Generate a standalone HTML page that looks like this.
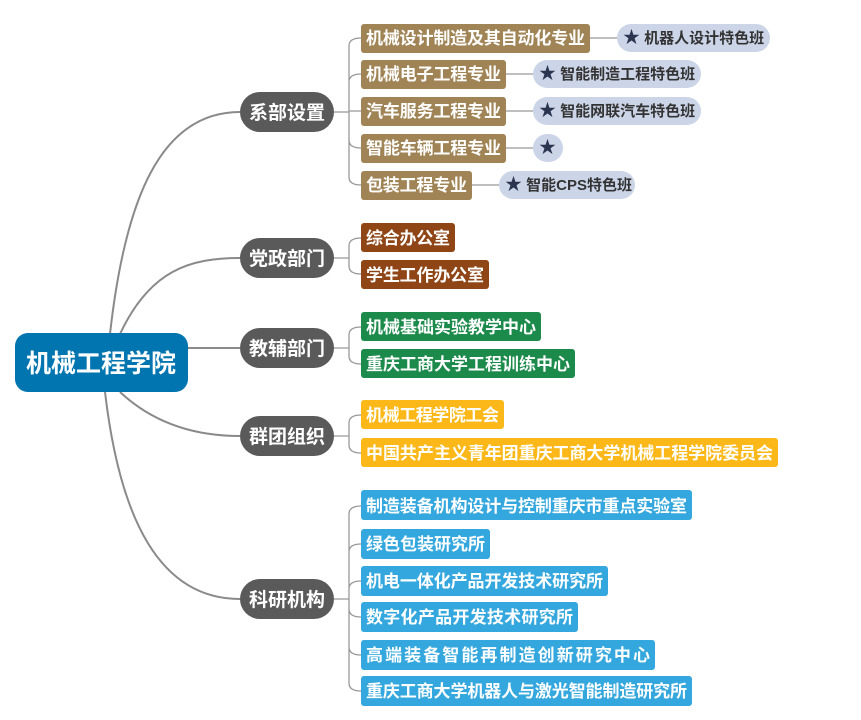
<!DOCTYPE html>
<html><head><meta charset="utf-8"><style>
html,body{margin:0;padding:0;background:#fff;}
svg{display:block;}
text{font-family:"Liberation Sans","Noto Sans CJK SC",sans-serif;font-weight:bold;}
.l{fill:#fff;font-size:17px;}
.p{fill:#333;font-size:15px;}
.m{fill:#fff;font-size:19px;}
</style></head><body>
<svg width="861" height="720" viewBox="0 0 861 720">
<g fill="none" stroke="#8a8a8a" stroke-width="2">
<path d="M110,334 C125,200 160,112 240,112"/>
<path d="M120,334 C150,270 190,258 240,258"/>
<path d="M188,348 L240,348"/>
<path d="M120,392 C150,420 190,436 240,436"/>
<path d="M105,392 C120,520 160,599 240,599"/>
</g>
<g fill="none" stroke="#999" stroke-width="1.3">
<path d="M334,112 H349"/>
<path d="M349,112 V46 Q349,38 361,38 M349,112 V82 Q349,74 361,74 M349,111 H361 M349,112 V140 Q349,148 361,148 M349,112 V177 Q349,185 361,185"/>
<path d="M334,258 H349 M349,258 V246 Q349,238 361,238 M349,258 V266 Q349,274 361,274"/>
<path d="M334,348 H349 M349,348 V335 Q349,327 361,327 M349,348 V356 Q349,364 361,364"/>
<path d="M334,436 H349 M349,436 V423 Q349,415 361,415 M349,436 V445 Q349,453 361,453"/>
<path d="M334,599 H349 M349,599 V514 Q349,506 361,506 M349,599 V552 Q349,544 361,544 M349,599 V589 Q349,581 361,581 M349,599 V609 Q349,617 361,617 M349,599 V647 Q349,655 361,655 M349,599 V683 Q349,691 361,691"/>
<path d="M590,38 H617 M506,74 H533 M506,111 H533 M506,148 H533 M472,185 H499"/>
</g>
<rect x="15" y="333" width="173" height="59" rx="13" fill="#0075b0"/>
<text x="101" y="372" text-anchor="middle" fill="#fff" font-size="25">机械工程学院</text>
<g fill="#5a5a5a">
<rect x="240" y="92" width="94" height="40" rx="20"/>
<rect x="240" y="238" width="94" height="40" rx="20"/>
<rect x="240" y="328" width="94" height="40" rx="20"/>
<rect x="240" y="416" width="94" height="40" rx="20"/>
<rect x="240" y="579" width="94" height="40" rx="20"/>
</g>
<text class="m" x="287" y="119" text-anchor="middle">系部设置</text>
<text class="m" x="287" y="265" text-anchor="middle">党政部门</text>
<text class="m" x="287" y="355" text-anchor="middle">教辅部门</text>
<text class="m" x="287" y="443" text-anchor="middle">群团组织</text>
<text class="m" x="287" y="606" text-anchor="middle">科研机构</text>
<g fill="#a08456">
<rect x="361" y="24" width="229" height="29" rx="3"/>
<rect x="361" y="60" width="145" height="29" rx="3"/>
<rect x="361" y="97" width="145" height="29" rx="3"/>
<rect x="361" y="134" width="145" height="29" rx="3"/>
<rect x="361" y="171" width="111" height="29" rx="3"/>
</g>
<text class="l" x="366" y="44" textLength="219">机械设计制造及其自动化专业</text>
<text class="l" x="366" y="80" textLength="135">机械电子工程专业</text>
<text class="l" x="366" y="117" textLength="135">汽车服务工程专业</text>
<text class="l" x="366" y="154" textLength="135">智能车辆工程专业</text>
<text class="l" x="366" y="191" textLength="101">包装工程专业</text>
<g fill="#ccd5e8">
<rect x="617" y="24" width="153" height="28" rx="14"/>
<rect x="533" y="60" width="168" height="28" rx="14"/>
<rect x="533" y="97" width="168" height="28" rx="14"/>
<rect x="533" y="134" width="30" height="28" rx="14"/>
<rect x="499" y="171" width="136" height="28" rx="14"/>
</g>
<text class="p" x="623" y="43"><tspan fill="#2b3550" font-size="17">★</tspan> 机器人设计特色班</text>
<text class="p" x="539" y="79"><tspan fill="#2b3550" font-size="17">★</tspan> 智能制造工程特色班</text>
<text class="p" x="539" y="116"><tspan fill="#2b3550" font-size="17">★</tspan> 智能网联汽车特色班</text>
<text class="p" x="539" y="153"><tspan fill="#2b3550" font-size="17">★</tspan></text>
<text class="p" x="505" y="190"><tspan fill="#2b3550" font-size="17">★</tspan> 智能CPS特色班</text>
<g fill="#8f4516">
<rect x="361" y="223" width="94" height="29" rx="3"/>
<rect x="361" y="260" width="128" height="29" rx="3"/>
</g>
<text class="l" x="366" y="244" textLength="84">综合办公室</text>
<text class="l" x="366" y="281" textLength="118">学生工作办公室</text>
<g fill="#1b8a4a">
<rect x="361" y="312" width="180" height="29" rx="3"/>
<rect x="361" y="349" width="214" height="29" rx="3"/>
</g>
<text class="l" x="366" y="333" textLength="170">机械基础实验教学中心</text>
<text class="l" x="366" y="370" textLength="204">重庆工商大学工程训练中心</text>
<g fill="#fbb818">
<rect x="361" y="400" width="143" height="29" rx="3"/>
<rect x="361" y="438" width="417" height="29" rx="3"/>
</g>
<text class="l" x="366" y="421" textLength="133">机械工程学院工会</text>
<text class="l" x="366" y="459" textLength="407">中国共产主义青年团重庆工商大学机械工程学院委员会</text>
<g fill="#34a7de">
<rect x="361" y="490" width="331" height="30" rx="3"/>
<rect x="361" y="529" width="129" height="30" rx="3"/>
<rect x="361" y="566" width="247" height="30" rx="3"/>
<rect x="361" y="602" width="217" height="30" rx="3"/>
<rect x="361" y="640" width="294" height="30" rx="3"/>
<rect x="361" y="676" width="331" height="30" rx="3"/>
</g>
<text class="l" x="366" y="512" textLength="321">制造装备机构设计与控制重庆市重点实验室</text>
<text class="l" x="366" y="550" textLength="119">绿色包装研究所</text>
<text class="l" x="366" y="587" textLength="237">机电一体化产品开发技术研究所</text>
<text class="l" x="366" y="623" textLength="207">数字化产品开发技术研究所</text>
<text class="l" x="366" y="661" textLength="284">高端装备智能再制造创新研究中心</text>
<text class="l" x="366" y="697" textLength="321">重庆工商大学机器人与激光智能制造研究所</text>
</svg>
</body></html>
